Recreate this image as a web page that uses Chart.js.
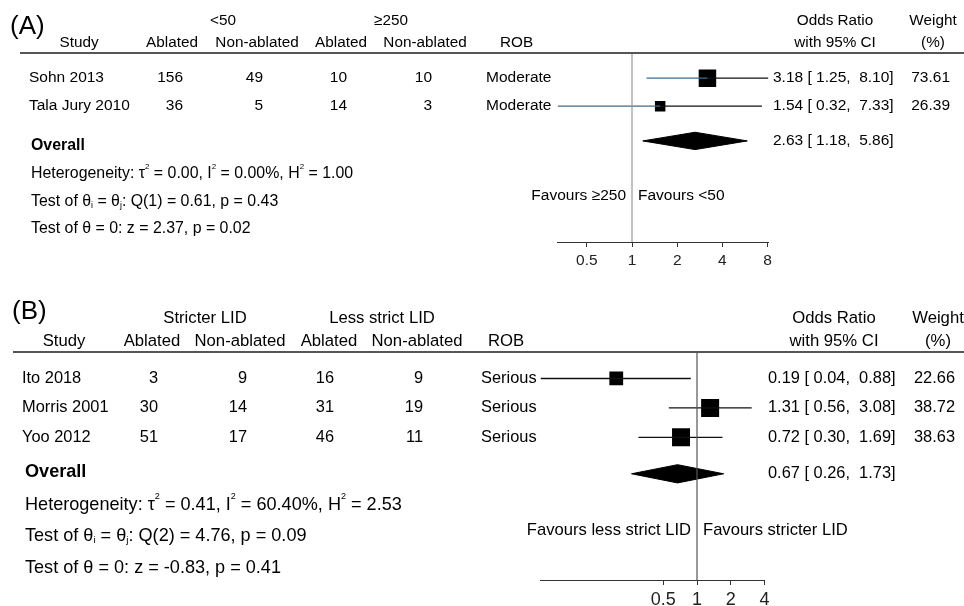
<!DOCTYPE html>
<html>
<head>
<meta charset="utf-8">
<script src="https://cdn.jsdelivr.net/npm/chart.js@4.4.1/dist/chart.umd.min.js"></script>
<style>
  body { margin: 0; background: #fff; width: 964px; height: 606px; overflow: hidden; }
  canvas { position: absolute; left: 0; }
  #chartA { top: 0; }
  #chartB { top: 280px; }
</style>
</head>
<body>
<canvas id="chartA" width="964" height="280"></canvas>
<canvas id="chartB" width="964" height="326"></canvas>
<script>
// (A) <50 vs >=250
const studiesA = ['Sohn 2013', 'Tala Jury 2010'];
const groupsA = ['<50', '≥250'];
const ablated1A = [156, 36];
const nonAblated1A = [49, 5];
const ablated2A = [10, 14];
const nonAblated2A = [10, 3];
const robA = ['Moderate', 'Moderate'];
const oddsA = [3.18, 1.54];
const lowerA = [1.25, 0.32];
const upperA = [8.10, 7.33];
const weightA = [73.61, 26.39];
const overallA = [2.63, 1.18, 5.86];
const favoursA = ['Favours ≥250', 'Favours <50'];
const statsA = [
  'Heterogeneity: τ^2 = 0.00, I^2 = 0.00%, H^2 = 1.00',
  'Test of θ_i = θ_j: Q(1) = 0.61, p = 0.43',
  'Test of θ = 0: z = 2.37, p = 0.02'
];
const ticksA = [0.5, 1, 2, 4, 8];

// (B) stricter vs less strict LID
const studiesB = ['Ito 2018', 'Morris 2001', 'Yoo 2012'];
const groupsB = ['Stricter LID', 'Less strict LID'];
const ablated1B = [3, 30, 51];
const nonAblated1B = [9, 14, 17];
const ablated2B = [16, 31, 46];
const nonAblated2B = [9, 19, 11];
const robB = ['Serious', 'Serious', 'Serious'];
const oddsB = [0.19, 1.31, 0.72];
const lowerB = [0.04, 0.56, 0.30];
const upperB = [0.88, 3.08, 1.69];
const weightB = [22.66, 38.72, 38.63];
const overallB = [0.67, 0.26, 1.73];
const favoursB = ['Favours less strict LID', 'Favours stricter LID'];
const statsB = [
  'Heterogeneity: τ^2 = 0.41, I^2 = 60.40%, H^2 = 2.53',
  'Test of θ_i = θ_j: Q(2) = 4.76, p = 0.09',
  'Test of θ = 0: z = -0.83, p = 0.41'
];
const ticksB = [0.5, 1, 2, 4];

const columns = ['Study', 'Ablated', 'Non-ablated', 'Ablated', 'Non-ablated'];
const FAMILY = '"Liberation Sans", Arial, Helvetica, sans-serif';

function font(size, bold) {
  return (bold ? 'bold ' : '') + size + 'px ' + FAMILY;
}

// text with ^x superscript and _x subscript
function drawRich(ctx, str, x, y, size, bold) {
  let cx = x;
  str.split(/([\^_].)/).forEach(p => {
    if (!p) return;
    let t = p, s = size, dy = 0;
    if (p.length === 2 && p[0] === '^') { t = p[1]; s = size * 0.5; dy = -size * 0.42; }
    else if (p.length === 2 && p[0] === '_') { t = p[1]; s = size * 0.55; dy = size * 0.25; }
    ctx.font = font(s, bold);
    ctx.fillText(t, cx, y + dy);
    cx += ctx.measureText(t).width;
  });
}

function fmtCI(v) {
  return v[0].toFixed(2) + ' [' + v[1].toFixed(2).padStart(5) + ', ' + v[2].toFixed(2).padStart(5) + ']';
}

function buildPanel(L, d) {
  const n = d.studies.length;
  const ymax = n + 4.75;
  const lo = Math.min(...d.lower);
  const hi = Math.max(...d.upper, ...d.ticks);
  const padL = L.x1 + Math.log2(lo) * L.unit;
  const padR = 964 - (L.x1 + Math.log2(hi) * L.unit);
  const rowY = i => i + 0.9;
  const yo = n + 1.14;

  const datasets = [];
  datasets.push({ data: [{ x: 1, y: 0 }, { x: 1, y: ymax }], showLine: true,
    borderColor: L.refColor, borderWidth: 1.2, pointRadius: 0 });
  d.studies.forEach((s, i) => {
    datasets.push({ data: [{ x: d.lower[i], y: rowY(i) }, { x: d.odds[i], y: rowY(i) }], showLine: true,
      borderColor: L.leftColor, borderWidth: 1.3, pointRadius: 0 });
    datasets.push({ data: [{ x: d.odds[i], y: rowY(i) }, { x: d.upper[i], y: rowY(i) }], showLine: true,
      borderColor: '#111', borderWidth: 1.3, pointRadius: 0 });
  });
  const wmax = Math.max(...d.weight);
  datasets.push({
    data: d.odds.map((v, i) => ({ x: v, y: rowY(i) })),
    pointStyle: 'rect',
    pointRadius: d.weight.map(w => L.maxSide / Math.SQRT2 * Math.sqrt(w / wmax)),
    backgroundColor: '#000', borderColor: '#000', borderWidth: 0
  });
  const ov = d.overall, h = 0.31;
  datasets.push({
    data: [{ x: ov[1], y: yo }, { x: ov[0], y: yo - h }, { x: ov[2], y: yo }, { x: ov[0], y: yo + h }, { x: ov[1], y: yo }],
    showLine: true, fill: 'shape', backgroundColor: '#000', borderColor: '#000', borderWidth: 1, pointRadius: 0
  });

  const textPlugin = {
    id: 'forestText',
    afterDraw(chart) {
      const ctx = chart.ctx;
      const ys = chart.scales.y, xs = chart.scales.x;
      ctx.save();
      ctx.strokeStyle = '#555';
      ctx.lineWidth = 2;
      ctx.beginPath();
      ctx.moveTo(L.lineX, L.top);
      ctx.lineTo(964, L.top);
      ctx.stroke();

      ctx.fillStyle = '#000';
      ctx.textBaseline = 'middle';
      ctx.font = font(26);
      ctx.textAlign = 'left';
      ctx.fillText(L.label, L.labelX, L.labelY);

      // headers
      ctx.font = font(L.headFont);
      ctx.textAlign = 'center';
      ctx.fillText(d.groups[0], L.groupX[0], L.headY[0]);
      ctx.fillText(d.groups[1], L.groupX[1], L.headY[0]);
      ctx.fillText('Odds Ratio', L.orHead, L.headY[0]);
      ctx.fillText('Weight', L.wHead, L.headY[0]);
      ctx.fillText(columns[0], L.studyHead, L.headY[1]);
      for (let c = 1; c < 5; c++) ctx.fillText(columns[c], L.colX[c - 1], L.headY[1]);
      ctx.fillText('with 95% CI', L.orHead, L.headY[1]);
      ctx.fillText('(%)', L.wHead, L.headY[1]);
      ctx.textAlign = 'left';
      ctx.fillText('ROB', L.robHeadX, L.headY[1]);

      // study rows
      ctx.font = font(L.font);
      const cols = [d.a1, d.n1, d.a2, d.n2];
      d.studies.forEach((s, i) => {
        const y = ys.getPixelForValue(rowY(i));
        ctx.textAlign = 'left';
        ctx.fillText(s, L.studyX, y);
        ctx.fillText(d.rob[i], L.robX, y);
        ctx.fillText(fmtCI([d.odds[i], d.lower[i], d.upper[i]]), L.orX, y);
        ctx.textAlign = 'right';
        cols.forEach((col, c) => ctx.fillText(String(col[i]), L.numRight[c], y));
        ctx.fillText(d.weight[i].toFixed(2), L.wRight, y);
      });
      ctx.textAlign = 'left';
      ctx.fillText(fmtCI(ov), L.orX, ys.getPixelForValue(yo));

      // overall + statistics
      ctx.font = font(L.statFont, true);
      ctx.fillText('Overall', L.statX, L.overallY);
      d.stats.forEach((s, k) => drawRich(ctx, s, L.statX, L.statY[k], L.statFont));

      // favours
      const x1 = xs.getPixelForValue(1);
      ctx.font = font(L.favFont);
      ctx.textAlign = 'right';
      ctx.fillText(d.favours[0], x1 - 6, L.favY);
      ctx.textAlign = 'left';
      ctx.fillText(d.favours[1], x1 + 6, L.favY);
      ctx.restore();
    }
  };

  return new Chart(L.canvas, {
    type: 'scatter',
    data: { datasets },
    options: {
      responsive: false,
      animation: false,
      layout: { padding: { left: padL, right: padR, top: L.top, bottom: 0 } },
      plugins: { legend: { display: false }, tooltip: { enabled: false } },
      scales: {
        x: {
          type: 'logarithmic', min: lo, max: hi, bounds: 'data',
          afterBuildTicks: sc => { sc.ticks = d.ticks.map(v => ({ value: v })); },
          afterFit: sc => { sc.height = L.height - L.axisY; },
          grid: { display: true, drawOnChartArea: false, drawTicks: true, tickLength: 5, color: '#333', lineWidth: 1 },
          border: { display: true, color: '#333', width: 1 },
          ticks: { autoSkip: false, maxRotation: 0, padding: L.tickPad, color: '#222',
            font: { family: FAMILY, size: L.tickFont }, callback: v => String(v) }
        },
        y: { type: 'linear', min: 0, max: ymax, reverse: true, display: false, bounds: 'data' }
      }
    },
    plugins: [textPlugin]
  });
}

const layoutA = {
  canvas: 'chartA', height: 280, top: 53, axisY: 242, x1: 632, unit: 45.2,
  font: 15.5, headFont: 15.3, statFont: 15.9, tickFont: 15.5, favFont: 15.5, tickPad: 4,
  label: '(A)', labelX: 10, labelY: 27, headY: [21, 43], lineX: 20,
  groupX: [223, 391], studyHead: 79, colX: [172, 257, 341, 425], numRight: [183, 263, 347, 432],
  studyX: 29, robHeadX: 500, robX: 486, orX: 773, orHead: 835, wHead: 933, wRight: 950,
  overallY: 146, statY: [173.5, 201.5, 228.5], statX: 31, favY: 196,
  refColor: '#999', leftColor: '#3f6a8c', maxSide: 17.5
};

const layoutB = {
  canvas: 'chartB', height: 326, top: 72, axisY: 300, x1: 697, unit: 33.7,
  font: 16.4, headFont: 16.7, statFont: 18.1, tickFont: 18, favFont: 16.6, tickPad: 4,
  label: '(B)', labelX: 12, labelY: 32, headY: [38, 61], lineX: 13,
  groupX: [205, 382], studyHead: 64, colX: [152, 240, 329, 417], numRight: [158, 247, 334, 423],
  studyX: 22, robHeadX: 488, robX: 481, orX: 768, orHead: 834, wHead: 938, wRight: 955,
  overallY: 191.5, statY: [224.5, 255.5, 287.5], statX: 25, favY: 250,
  refColor: '#555', leftColor: '#111', maxSide: 18
};

buildPanel(layoutA, {
  studies: studiesA, groups: groupsA, a1: ablated1A, n1: nonAblated1A, a2: ablated2A, n2: nonAblated2A,
  rob: robA, odds: oddsA, lower: lowerA, upper: upperA, weight: weightA, overall: overallA,
  favours: favoursA, stats: statsA, ticks: ticksA
});

buildPanel(layoutB, {
  studies: studiesB, groups: groupsB, a1: ablated1B, n1: nonAblated1B, a2: ablated2B, n2: nonAblated2B,
  rob: robB, odds: oddsB, lower: lowerB, upper: upperB, weight: weightB, overall: overallB,
  favours: favoursB, stats: statsB, ticks: ticksB
});
</script>
</body>
</html>
